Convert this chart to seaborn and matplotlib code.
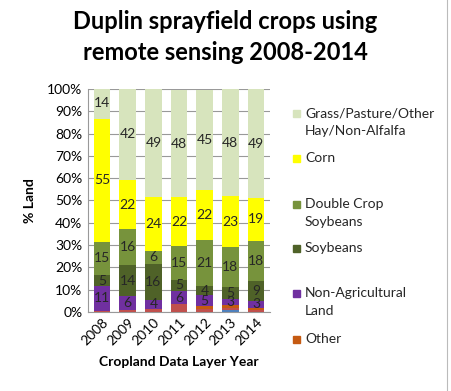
import matplotlib
matplotlib.use("Agg")
import matplotlib.pyplot as plt
import matplotlib.patches as patches
import seaborn as sns
import numpy as np
import pandas as pd

years = ["2008", "2009", "2010", "2011", "2012", "2013", "2014"]

# bottom to top
blue_misc = [0, 0, 0, 0, 0, 1, 0]
red_misc = [0.6, 1, 1.5, 3.5, 1.5, 1, 1]
other = [0, 0, 0, 0, 1, 1, 1]
non_ag = [11, 6, 4, 6, 5, 3, 3]
soybeans = [5, 14, 16, 5, 4, 5, 9]
double_crop = [15, 16, 6, 15, 21, 18, 18]
corn = [55, 22, 24, 22, 22, 23, 19]
grass = [14, 42, 49, 48, 45, 48, 49]

series_names = ["_blue", "_red", "Other", "Non-Agricultural\nLand", "Soybeans",
                "Double Crop\nSoybeans", "Corn", "Grass/Pasture/Other\nHay/Non-Alfalfa"]
series_vals = [blue_misc, red_misc, other, non_ag, soybeans, double_crop, corn, grass]
labelled = [False, False, False, True, True, True, True, True]
colors = ["#4F81BD", "#C0504D", "#C55A11", "#7030A0", "#4F6228",
          "#77933C", "#FFFF00", "#D7E4BD"]

plt.rcParams["font.family"] = ["Lato", "DejaVu Sans"]
FS = 10

fig = plt.figure(figsize=(4.51, 3.91), dpi=100)
ax = fig.add_axes([88 / 451, 1 - 312 / 391, 182 / 451, 223 / 391])

vals = np.array(series_vals, dtype=float)
cum = np.cumsum(vals, axis=0)

# draw tallest cumulative first so lower layers sit on top
for i in range(len(series_vals) - 1, -1, -1):
    df = pd.DataFrame({"year": years, "v": cum[i]})
    sns.barplot(data=df, x="year", y="v", color=colors[i], width=0.65,
                saturation=1, ax=ax, zorder=3)

for i, show in enumerate(labelled):
    if not show:
        continue
    for j in range(len(years)):
        mid = cum[i, j] - vals[i, j] / 2
        ax.text(j, mid, f"{int(vals[i, j])}", ha="center", va="center",
                fontsize=FS, color="#262626", zorder=5)

ax.set_ylim(0, 100)
ax.set_xlim(-0.55, len(years) - 0.45)
ax.set_yticks(np.arange(0, 101, 10))
ax.set_yticklabels([f"{t}%" for t in range(0, 101, 10)], fontsize=FS)
ax.set_xticks(range(len(years)))
ax.set_xticklabels(years, rotation=45, ha="right", rotation_mode="anchor", fontsize=FS)
ax.yaxis.grid(True, color="#999999", linewidth=0.8, zorder=0)
ax.set_axisbelow(True)
for s in ["top", "right"]:
    ax.spines[s].set_visible(False)
for s in ["left", "bottom"]:
    ax.spines[s].set_color("#999999")
ax.tick_params(axis="y", length=0, pad=4)
ax.tick_params(axis="x", length=0, pad=3)
ax.set_ylabel("% Land", fontsize=FS, fontweight="bold", labelpad=8)
ax.set_xlabel("Cropland Data Layer Year", fontsize=FS, fontweight="bold", labelpad=6)

fig.text(0.5, 0.905, "Duplin sprayfield crops using\nremote sensing 2008-2014",
         ha="center", va="center", fontsize=17, fontweight="bold", linespacing=1.4)

# legend, top entry = Grass
legend_y = [112, 157, 203, 247, 292, 338]
legend_items = [(series_names[k], colors[k]) for k in range(7, 1, -1)]
for (name, col), yy in zip(legend_items, legend_y):
    yf = 1 - yy / 391
    fig.patches.append(patches.Rectangle((293 / 451, yf - 0.012), 7 / 451, 7 / 391,
                                         transform=fig.transFigure, color=col))
    for k, line in enumerate(name.split("\n")):
        fig.text(305 / 451, yf - 0.003 - k * 18 / 391, line, ha="left", va="center",
                 fontsize=FS, color="#262626")

fig.add_artist(plt.Line2D([447 / 451, 447 / 451], [0, 1], transform=fig.transFigure,
                          color="#bbbbbb", linewidth=0.8))

fig.savefig("out.png", dpi=100)
